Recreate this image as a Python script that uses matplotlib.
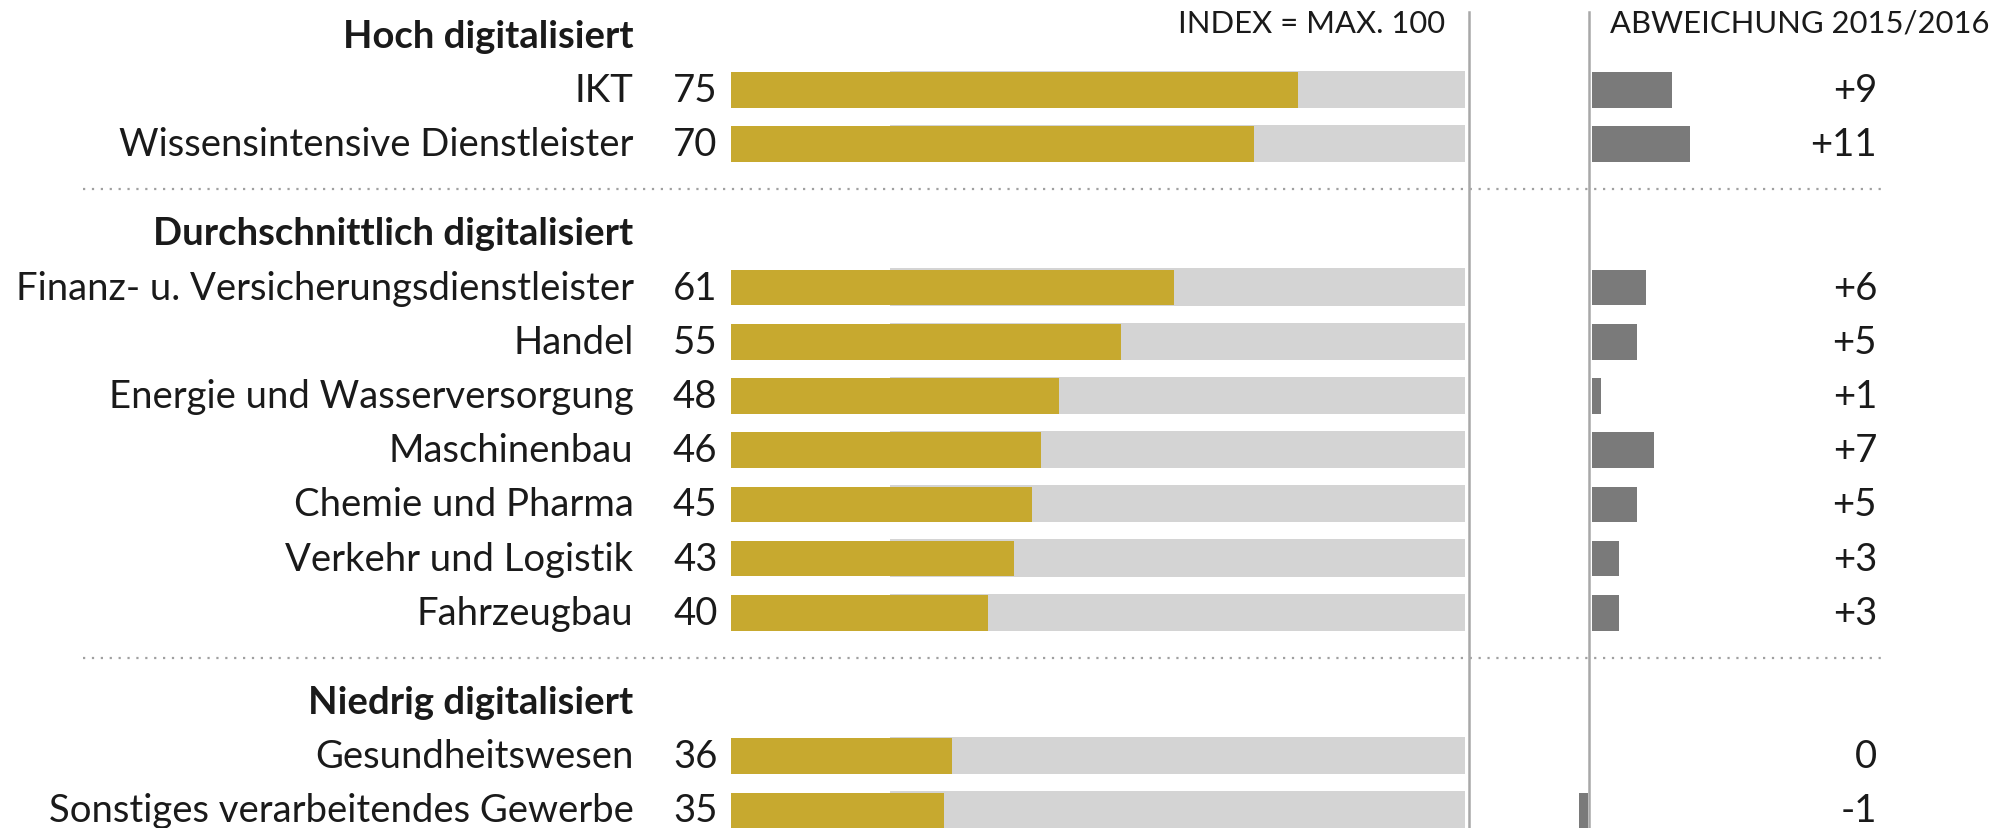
import matplotlib
matplotlib.use("Agg")
import matplotlib.pyplot as plt

# ---- data ----
groups = ["Hoch digitalisiert", "Durchschnittlich digitalisiert", "Niedrig digitalisiert"]
group_items = [
    ["IKT", "Wissensintensive Dienstleister"],
    ["Finanz- u. Versicherungsdienstleister", "Handel", "Energie und Wasserversorgung",
     "Maschinenbau", "Chemie und Pharma", "Verkehr und Logistik", "Fahrzeugbau"],
    ["Gesundheitswesen", "Sonstiges verarbeitendes Gewerbe"],
]
index_values = [[75, 70], [61, 55, 48, 46, 45, 43, 40], [36, 35]]
change_values = [[9, 11], [6, 5, 1, 7, 5, 3, 3], [0, -1]]
header_index = "INDEX = MAX. 100"
header_change = "ABWEICHUNG 2015/2016"

# ---- style ----
GOLD = "#C7A92F"
LIGHT = "#D4D4D4"
DARK = "#7A7A7A"
LINE = "#A8A8A8"
TXT = "#1A1A1A"
FONT = "Lato"

BAR_START = 11.0
GREY_START = 29.0
GREY_END = 93.9
VLINE1 = 94.3
BAR_H = 0.66

fig = plt.figure(figsize=(19.91, 8.29), dpi=100)
ax = fig.add_axes([0, 0, 1, 1])
ax2 = fig.add_axes([0, 0, 1, 1], sharey=ax)
ax2.patch.set_alpha(0)
for a in (ax, ax2):
    a.axis("off")

ax.set_xlim(-499 / 6.975, (1568 - 499) / 6.975)
ax2.set_xlim(-1251.5 / 7.0, (1568 - 1251.5) / 7.0)
ax.set_ylim((653 - 29) / 42.5, -29 / 42.5)

# layout of rows
y = 0.0
header_y = []
item_y = []
sep_y = []
for gi, items in enumerate(group_items):
    if gi > 0:
        sep_y.append(y + 0.83)
        y += 1.65
    header_y.append(y)
    ys = []
    for k in range(len(items)):
        y += 1.005
        ys.append(y)
    item_y.append(ys)

lab_fs = 27.5
for gi, g in enumerate(groups):
    ax.text(0, header_y[gi], g, ha="right", va="center", fontsize=lab_fs,
            fontweight="bold", color=TXT, family=FONT)
    for name, v, c, yy in zip(group_items[gi], index_values[gi], change_values[gi], item_y[gi]):
        ax.text(0, yy, name, ha="right", va="center", fontsize=lab_fs, color=TXT, family=FONT)
        ax.text(9.46, yy, str(v), ha="right", va="center", fontsize=lab_fs, color=TXT, family=FONT)
        ax.barh(yy - 0.01, GREY_END - GREY_START, left=GREY_START, height=BAR_H + 0.03,
                color=LIGHT, zorder=1)
        ax.barh(yy, v - BAR_START, left=BAR_START, height=BAR_H, color=GOLD, zorder=2)
        if c > 0:
            ax2.barh(yy, c, left=0.35, height=BAR_H, color=DARK, zorder=2)
        elif c < 0:
            ax2.barh(yy, c, left=-0.1, height=BAR_H, color=DARK, zorder=2)
        lab = "0" if c == 0 else f"{c:+d}"
        ax2.text(32.4, yy, lab, ha="right", va="center", fontsize=lab_fs, color=TXT, family=FONT)

for s in sep_y:
    ax.plot([-62.2, 141.2], [s, s], color="#A0A0A0", lw=1.6,
            linestyle=(0, (1, 3)), solid_capstyle="butt", zorder=0)

ytop = -0.45
ybot = (653 - 29) / 42.5
ax.plot([VLINE1, VLINE1], [ytop, ybot], color=LINE, lw=1.8, zorder=3)
ax2.plot([0, 0], [ytop, ybot], color=LINE, lw=1.8, zorder=3)

ax.text(91.6, -0.24, header_index, ha="right", va="center", fontsize=22.3,
        color=TXT, family=FONT)
ax2.text(2.36, -0.24, header_change, ha="left", va="center", fontsize=22.3,
         color=TXT, family=FONT)

fig.savefig("out.png", dpi=100)
